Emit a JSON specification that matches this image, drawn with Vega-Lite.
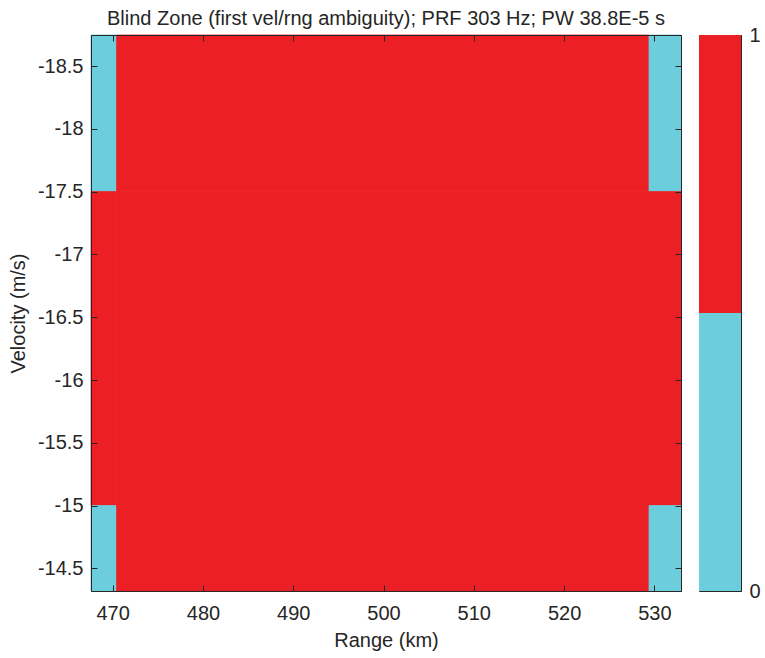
{
  "$schema": "https://vega.github.io/schema/vega-lite/v6.json",
  "background": "white",
  "padding": {"left": 7, "top": 8, "right": 2, "bottom": 0},
  "config": {
    "font": "Liberation Sans",
    "view": {"stroke": "#262626", "strokeWidth": 1},
    "concat": {"spacing": 16},
    "axis": {
      "grid": false,
      "zindex": 2,
      "domainColor": "#262626",
      "tickColor": "#262626",
      "labelColor": "#262626",
      "titleColor": "#262626",
      "labelFont": "Liberation Sans",
      "titleFont": "Liberation Sans",
      "labelFontSize": 20,
      "titleFontSize": 20,
      "titleFontWeight": "normal",
      "tickWidth": 1,
      "domainWidth": 1
    },
    "title": {"font": "Liberation Sans", "fontSize": 20, "fontWeight": "normal", "color": "#262626"}
  },
  "datasets": {
    "cells": [
      {"r0": 467.6, "r1": 470.44, "v0": -18.747, "v1": -17.5, "blind": 0},
      {"r0": 467.6, "r1": 470.44, "v0": -17.5, "v1": -15.0, "blind": 1},
      {"r0": 467.6, "r1": 470.44, "v0": -15.0, "v1": -14.32, "blind": 0},
      {"r0": 470.44, "r1": 529.41, "v0": -18.747, "v1": -17.5, "blind": 1},
      {"r0": 470.44, "r1": 529.41, "v0": -17.5, "v1": -15.0, "blind": 1},
      {"r0": 470.44, "r1": 529.41, "v0": -15.0, "v1": -14.32, "blind": 1},
      {"r0": 529.41, "r1": 532.95, "v0": -18.747, "v1": -17.5, "blind": 0},
      {"r0": 529.41, "r1": 532.95, "v0": -17.5, "v1": -15.0, "blind": 1},
      {"r0": 529.41, "r1": 532.95, "v0": -15.0, "v1": -14.32, "blind": 0}
    ],
    "colorbar": [
      {"lo": 0, "hi": 0.5, "level": 0},
      {"lo": 0.5, "hi": 1, "level": 1}
    ]
  },
  "hconcat": [
    {
      "width": 590,
      "height": 556,
      "title": {"text": "Blind Zone (first vel/rng ambiguity); PRF 303 Hz; PW 38.8E-5 s", "anchor": "middle", "offset": 6},
      "data": {"name": "cells"},
      "layer": [
        {
          "mark": {"type": "rect", "strokeWidth": 0.8},
          "encoding": {
            "x": {
              "field": "r0", "type": "quantitative",
              "scale": {"domain": [467.6, 532.95], "nice": false, "zero": false},
              "axis": {"orient": "bottom", "zindex": 2, "tickSize": -6, "title": "Range (km)", "values": [470, 480, 490, 500, 510, 520, 530], "labelPadding": 18, "titlePadding": 7, "labelFlush": false}
            },
            "x2": {"field": "r1"},
            "y": {
              "field": "v0", "type": "quantitative",
              "scale": {"domain": [-18.747, -14.32], "nice": false, "zero": false, "reverse": true},
              "axis": {"orient": "left", "zindex": 2, "tickSize": -6, "title": "Velocity (m/s)", "values": [-18.5, -18, -17.5, -17, -16.5, -16, -15.5, -15, -14.5], "labelExpr": "datum.value + ''", "labelPadding": 14, "titlePadding": 9}
            },
            "y2": {"field": "v1"},
            "color": {
              "field": "blind", "type": "nominal",
              "scale": {"domain": [0, 1], "range": ["#6ccddc", "#ec2024"]},
              "legend": null
            },
            "stroke": {
              "field": "blind", "type": "nominal",
              "scale": {"domain": [0, 1], "range": ["#6ccddc", "#ec2024"]},
              "legend": null
            }
          }
        },
        {
          "mark": {"type": "rect", "opacity": 0},
          "encoding": {
            "x": {"field": "r0", "type": "quantitative", "axis": {"orient": "top", "zindex": 2, "tickSize": -6, "title": null, "labels": false, "values": [470, 480, 490, 500, 510, 520, 530]}},
            "x2": {"field": "r1"},
            "y": {"field": "v0", "type": "quantitative", "axis": {"orient": "right", "zindex": 2, "tickSize": -6, "title": null, "labels": false, "values": [-18.5, -18, -17.5, -17, -16.5, -16, -15.5, -15, -14.5]}},
            "y2": {"field": "v1"}
          }
        }
      ],
      "resolve": {"axis": {"x": "independent", "y": "independent"}}
    },
    {
      "width": 42,
      "height": 556,
      "data": {"name": "colorbar"},
      "mark": {"type": "rect"},
      "encoding": {
        "y": {
          "field": "lo", "type": "quantitative",
          "scale": {"domain": [0, 1], "nice": false, "zero": false},
          "axis": {"orient": "right", "zindex": 2, "title": null, "values": [0, 1], "labelExpr": "datum.value + ''", "ticks": false, "domain": true, "labelPadding": 8}
        },
        "y2": {"field": "hi"},
        "color": {
          "field": "level", "type": "nominal",
          "scale": {"domain": [0, 1], "range": ["#6ccddc", "#ec2024"]},
          "legend": null
        }
      }
    }
  ]
}
